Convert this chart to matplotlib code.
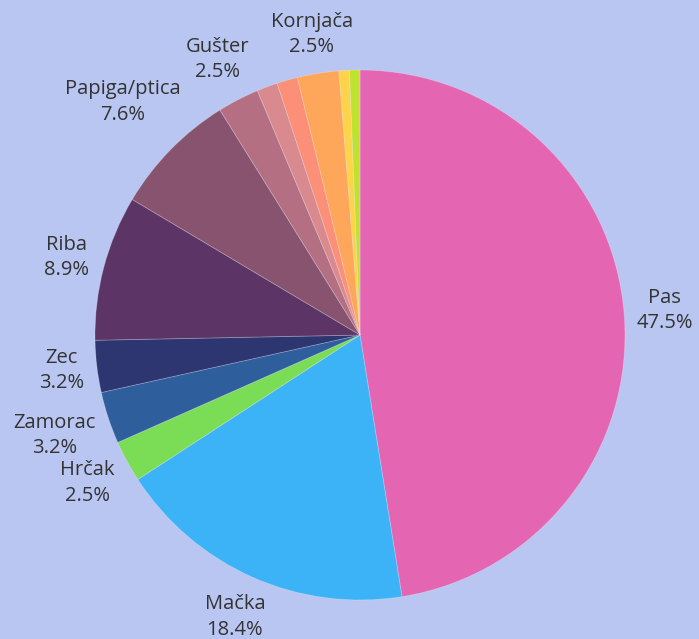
import matplotlib
matplotlib.use("Agg")
import matplotlib.pyplot as plt
import numpy as np

# ljubimci - broj odgovora
names = ["Pas", "Mačka", "Hrčak", "Zamorac", "Zec", "Riba", "Papiga/ptica",
         "Gušter", "", "", "Kornjača", "", ""]
counts = [75, 29, 4, 5, 5, 14, 12, 4, 2, 2, 4, 1, 1]
colors = ["#e466b3", "#3db3f7", "#7bdc56", "#2f5e9c", "#2e3672", "#5c3566",
          "#87536f", "#b56f83", "#d98a8f", "#fb8f77", "#fea75a", "#fdd34b",
          "#bfe22f"]

bg = "#b9c6f1"
plt.rcParams['font.family'] = ['Open Sans', 'DejaVu Sans']

fig = plt.figure(figsize=(6.99, 6.39), dpi=100, facecolor=bg)
ax = fig.add_axes([95/699, 39/639, 530/699, 530/639])
ax.set_facecolor(bg)

wedges, _ = ax.pie(counts, colors=colors, startangle=90, counterclock=False,
                   radius=1, wedgeprops=dict(edgecolor=(1, 1, 1, 0.25), linewidth=0.6))
ax.set_xlim(-1, 1)
ax.set_ylim(-1, 1)
ax.set_aspect('equal')
ax.axis('off')

total = sum(counts)
renderer = fig.canvas.get_renderer()
inv = ax.transData.inverted()
for w, name, c in zip(wedges, names, counts):
    if not name:
        continue
    ang = np.deg2rad((w.theta1 + w.theta2) / 2)
    t = ax.text(0, 0, f"{name}\n{100*c/total:.1f}%", ha='center', va='center',
                fontsize=14.5, color='#333333', linespacing=1.35)
    bb = t.get_window_extent(renderer)
    p0 = inv.transform((bb.x0, bb.y0))
    p1 = inv.transform((bb.x1, bb.y1))
    hw = (p1[0] - p0[0]) / 2
    hh = (p1[1] - p0[1]) / 2
    r = 1.04 + abs(np.cos(ang)) * hw + abs(np.sin(ang)) * hh
    t.set_position((r * np.cos(ang), r * np.sin(ang)))

fig.savefig("out.png", dpi=100, facecolor=bg)
